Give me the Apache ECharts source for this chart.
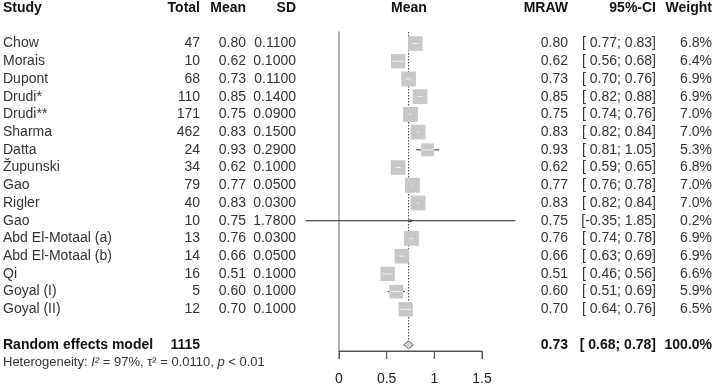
<!DOCTYPE html>
<html>
<head>
<meta charset="utf-8">
<script src="https://cdn.jsdelivr.net/npm/echarts@6/dist/echarts.min.js"></script>
<style>
  html, body { margin: 0; padding: 0; background: #fff; }
  #chart { width: 716px; height: 387px; }
</style>
</head>
<body>
<div id="chart"></div>
<script>
// 数据
const studies = ['Chow', 'Morais', 'Dupont', 'Drudi*', 'Drudi**', 'Sharma', 'Datta', 'Župunski', 'Gao', 'Rigler', 'Gao', 'Abd El-Motaal (a)', 'Abd El-Motaal (b)', 'Qi', 'Goyal (I)', 'Goyal (II)'];
const totals = [47, 10, 68, 110, 171, 462, 24, 34, 79, 40, 10, 13, 14, 16, 5, 12];
const means = [0.80, 0.62, 0.73, 0.85, 0.75, 0.83, 0.93, 0.62, 0.77, 0.83, 0.75, 0.76, 0.66, 0.51, 0.60, 0.70];
const sds = [0.11, 0.10, 0.11, 0.14, 0.09, 0.15, 0.29, 0.10, 0.05, 0.03, 1.78, 0.03, 0.05, 0.10, 0.10, 0.10];
const ciLow = [0.77, 0.56, 0.70, 0.82, 0.74, 0.82, 0.81, 0.59, 0.76, 0.82, -0.35, 0.74, 0.63, 0.46, 0.51, 0.64];
const ciHigh = [0.83, 0.68, 0.76, 0.88, 0.76, 0.84, 1.05, 0.65, 0.78, 0.84, 1.85, 0.78, 0.69, 0.56, 0.69, 0.76];
const weights = [6.8, 6.4, 6.9, 6.9, 7.0, 7.0, 5.3, 6.8, 7.0, 7.0, 0.2, 6.9, 6.9, 6.6, 5.9, 6.5];

const pooledLabel = 'Random effects model';
const pooledTotal = 1115;
const pooledMean = 0.73;
const pooledCI = [0.68, 0.78];
const pooledWeight = 100.0;

const heterogeneity = { i2: '97%', tau2: '0.0110', p: '< 0.01' };

const xTicks = [0, 0.5, 1, 1.5];

// 布局：行号取负值，第0行（表头）在最上面
const FONT = '"Liberation Sans", Arial, sans-serif';
const ROW0 = 2;          // 第一行研究
const POOLED_ROW = 19;
const HET_ROW = 20;
const Y_TOP = -1.35;
const Y_BOTTOM = -19.35;
const SQ_K = 5.6;        // 方块边长 = k * sqrt(权重)
const TEXT_COLOR = '#333';
const CI_RIGHT = 656;

function txt(x, y, text, align, bold, size) {
    return {
        type: 'text',
        x: x,
        y: y,
        style: {
            text: text,
            fill: bold ? '#111' : TEXT_COLOR,
            fontFamily: FONT,
            fontSize: size || 14,
            fontWeight: bold ? 'bold' : 'normal',
            align: align,
            verticalAlign: 'middle'
        }
    };
}

function fmtCI(lo, hi) {
    const l = lo < 0 ? lo.toFixed(2) : ' ' + lo.toFixed(2);
    return '[' + l + '; ' + hi.toFixed(2) + ']';
}

// 研究的方块和置信区间
function renderStudy(params, api) {
    const row = api.value(1);
    const c = api.coord([api.value(0), row]);
    const lo = api.coord([api.value(2), row])[0];
    const hi = api.coord([api.value(3), row])[0];
    const side = SQ_K * Math.sqrt(api.value(4));
    const children = [
        {
            type: 'line',
            shape: { x1: lo, y1: c[1], x2: hi, y2: c[1] },
            style: { stroke: '#222', lineWidth: 1 }
        },
        {
            type: 'rect',
            shape: { x: c[0] - side / 2, y: c[1] - side / 2, width: side, height: side },
            style: { fill: side < 4 ? '#444' : '#c8c8c8' }
        }
    ];
    if (side >= 4) {
        children.push({
            type: 'line',
            shape: {
                x1: Math.max(lo, c[0] - side / 2), y1: c[1],
                x2: Math.min(hi, c[0] + side / 2), y2: c[1]
            },
            style: { stroke: '#f2f2f2', lineWidth: 1 }
        });
    }
    return { type: 'group', children: children };
}

// 合并效应：菱形和虚线
function renderPooled(params, api) {
    const row = api.value(1);
    const c = api.coord([api.value(0), row]);
    const lo = api.coord([api.value(2), row])[0];
    const hi = api.coord([api.value(3), row])[0];
    const top = api.coord([api.value(0), Y_TOP])[1];
    const h = 4;
    return {
        type: 'group',
        children: [
            {
                type: 'line',
                shape: { x1: c[0], y1: top, x2: c[0], y2: c[1] - h },
                style: { stroke: '#444', lineWidth: 1, lineDash: [1.5, 1.5] }
            },
            {
                type: 'polygon',
                shape: { points: [[lo, c[1]], [c[0], c[1] - h], [hi, c[1]], [c[0], c[1] + h]] },
                style: { fill: '#d4d4d4', stroke: '#666', lineWidth: 1 }
            }
        ]
    };
}

// 底部坐标轴线和刻度（xAxis 自带的轴线没有画出来）
function renderAxis(params, api) {
    const a = api.coord([xTicks[0], Y_BOTTOM]);
    const b = api.coord([xTicks[xTicks.length - 1], Y_BOTTOM]);
    const children = [{
        type: 'line',
        shape: { x1: a[0], y1: a[1], x2: b[0], y2: b[1] },
        style: { stroke: '#555', lineWidth: 1 }
    }];
    xTicks.forEach(t => {
        const p = api.coord([t, Y_BOTTOM]);
        children.push({
            type: 'line',
            shape: { x1: p[0], y1: p[1], x2: p[0], y2: p[1] + 8 },
            style: { stroke: '#555', lineWidth: 1 }
        });
    });
    return { type: 'group', children: children };
}

// 表格文字
function renderTable(params, api) {
    const i = params.dataIndex;
    const y = api.coord([0, api.value(1)])[1];
    if (i === 0) {
        return {
            type: 'group',
            children: [
                txt(3, y, 'Study', 'left', true),
                txt(200, y, 'Total', 'right', true),
                txt(246, y, 'Mean', 'right', true),
                txt(296, y, 'SD', 'right', true),
                txt(409, y, 'Mean', 'center', true),
                txt(568, y, 'MRAW', 'right', true),
                txt(CI_RIGHT, y, '95%-CI', 'right', true),
                txt(712, y, 'Weight', 'right', true)
            ]
        };
    }
    if (i === studies.length + 1) {
        return {
            type: 'group',
            children: [
                txt(3, y, pooledLabel, 'left', true),
                txt(200, y, String(pooledTotal), 'right', true),
                txt(568, y, pooledMean.toFixed(2), 'right', true),
                txt(CI_RIGHT, y, fmtCI(pooledCI[0], pooledCI[1]), 'right', true),
                txt(712, y, pooledWeight.toFixed(1) + '%', 'right', true)
            ]
        };
    }
    if (i === studies.length + 2) {
        return {
            type: 'text',
            x: 3,
            y: y,
            style: {
                text: '{n|Heterogeneity: }{i|I²}{n| = ' + heterogeneity.i2 + ', τ² = ' +
                    heterogeneity.tau2 + ', }{i|p}{n| ' + heterogeneity.p + '}',
                fill: TEXT_COLOR,
                fontFamily: FONT,
                fontSize: 13,
                align: 'left',
                verticalAlign: 'middle',
                rich: {
                    n: { fontSize: 13, fontFamily: FONT, fill: TEXT_COLOR },
                    i: { fontSize: 13, fontFamily: FONT, fontStyle: 'italic', fill: TEXT_COLOR }
                }
            }
        };
    }
    const k = i - 1;
    return {
        type: 'group',
        children: [
            txt(3, y, studies[k], 'left', false),
            txt(200, y, String(totals[k]), 'right', false),
            txt(246, y, means[k].toFixed(2), 'right', false),
            txt(296, y, sds[k].toFixed(4), 'right', false),
            txt(568, y, means[k].toFixed(2), 'right', false),
            txt(CI_RIGHT, y, fmtCI(ciLow[k], ciHigh[k]), 'right', false),
            txt(712, y, weights[k].toFixed(1) + '%', 'right', false)
        ]
    };
}

const tableRows = [[0, 0]]
    .concat(studies.map((s, i) => [0, -(ROW0 + i)]))
    .concat([[0, -POOLED_ROW], [0, -HET_ROW]]);

const chart = echarts.init(document.getElementById('chart'), null, { renderer: 'canvas' });

const option = {
    animation: false,
    grid: { left: 339, top: 32, width: 143, height: 319 },
    xAxis: {
        type: 'value',
        position: 'bottom',
        min: 0,
        max: 1.5,
        interval: 0.5,
        axisLine: { show: true, onZero: false, lineStyle: { color: '#555', width: 1 } },
        axisTick: { show: true, length: 8, lineStyle: { color: '#555', width: 1 } },
        axisLabel: {
            margin: 21,
            fontSize: 14,
            fontFamily: FONT,
            color: '#222',
            formatter: v => String(v)
        },
        splitLine: { show: false }
    },
    yAxis: {
        type: 'value',
        position: 'left',
        min: Y_BOTTOM,
        max: Y_TOP,
        axisLine: { show: true, onZero: false, lineStyle: { color: '#9a9a9a', width: 1.5 } },
        axisTick: { show: false },
        axisLabel: { show: false },
        splitLine: { show: false }
    },
    series: [
        {
            type: 'custom',
            name: 'table',
            clip: false,
            silent: true,
            renderItem: renderTable,
            encode: { x: 0, y: 1 },
            data: tableRows
        },
        {
            type: 'custom',
            name: 'axis',
            clip: false,
            silent: true,
            renderItem: renderAxis,
            encode: { x: 0, y: 1 },
            data: [[0, Y_BOTTOM]]
        },
        {
            type: 'custom',
            name: 'pooled',
            clip: false,
            renderItem: renderPooled,
            encode: { x: 0, y: 1 },
            data: [[pooledMean, -POOLED_ROW, pooledCI[0], pooledCI[1]]]
        },
        {
            type: 'custom',
            name: 'studies',
            clip: false,
            renderItem: renderStudy,
            encode: { x: 0, y: 1 },
            data: studies.map((s, i) => [means[i], -(ROW0 + i), ciLow[i], ciHigh[i], weights[i]])
        }
    ]
};
chart.setOption(option);
</script>
</body>
</html>
